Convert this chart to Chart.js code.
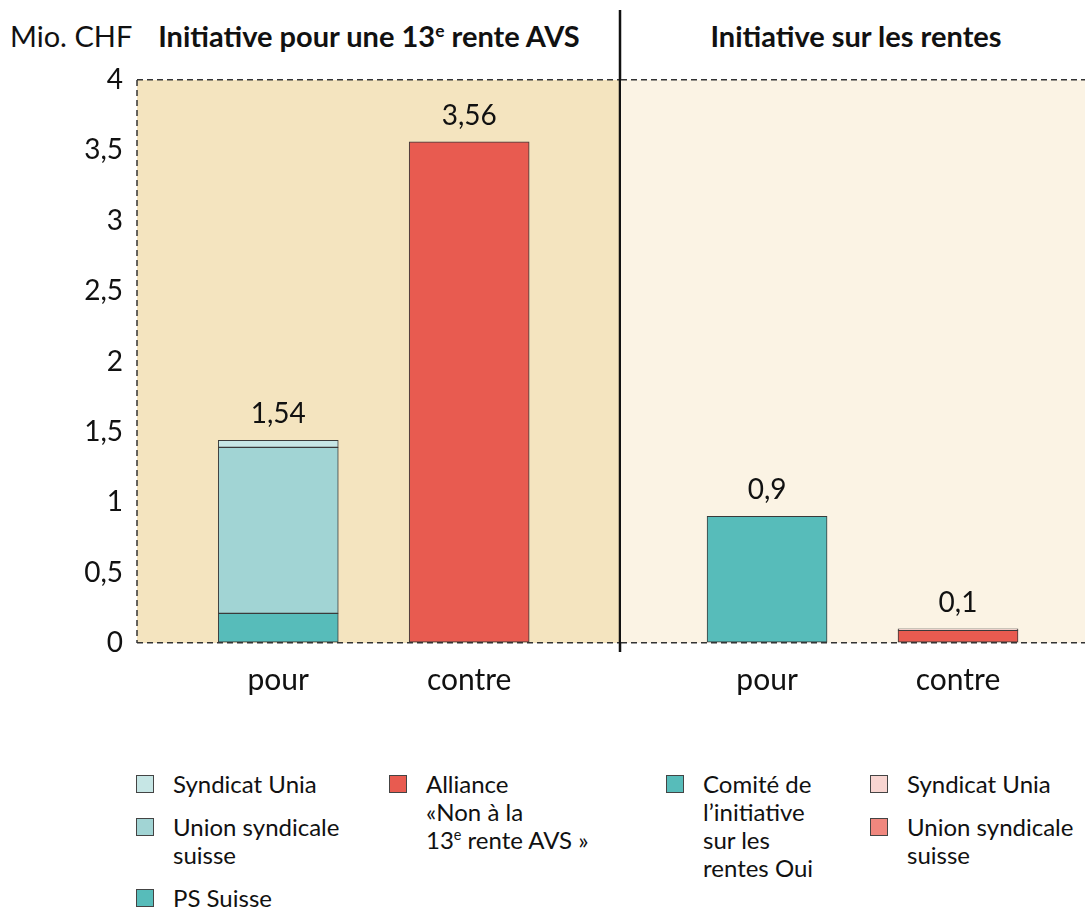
<!DOCTYPE html>
<html lang="fr">
<head>
<meta charset="utf-8">
<script src="https://cdn.jsdelivr.net/npm/chart.js@4.4.0/dist/chart.umd.min.js"></script>
<style>
  body { margin: 0; background: #fff; font-family: Lato, sans-serif; color: #111; }
  #wrap { position: relative; width: 1085px; height: 910px; overflow: hidden; }
  .box { position: absolute; top: 0; height: 700px; }
  #boxLeft { left: 0; width: 622px; }
  #boxRight { left: 621px; width: 464px; }
  .head { position: absolute; top: 17px; font-size: 29px; line-height: 38px; white-space: nowrap; }
  #unit { left: 10px; }
  #titleLeft { left: 0; width: 738px; text-align: center; font-weight: bold; }
  #titleRight { left: 627px; width: 458px; text-align: center; font-weight: bold; }
  sup { font-size: 60%; vertical-align: 0; position: relative; top: -0.6em; }
  .col { position: absolute; top: 770px; }
  .item { position: relative; padding-left: 37px; margin-bottom: 15px; font-size: 24px; line-height: 28px; white-space: pre-line; }
  .sw { position: absolute; left: 0; top: 5px; width: 16px; height: 16px; border: 1px solid #444; }
</style>
</head>
<body>
<div id="wrap">
  <div class="head" id="unit">Mio. CHF</div>
  <div class="head" id="titleLeft">Initiative pour une 13<sup>e</sup> rente AVS</div>
  <div class="head" id="titleRight">Initiative sur les rentes</div>
  <div class="box" id="boxLeft"><canvas id="chartLeft"></canvas></div>
  <div class="box" id="boxRight"><canvas id="chartRight"></canvas></div>
  <div id="legend"></div>
</div>
<script>
const categories = ['pour', 'contre'];

// Initiative pour une 13e rente AVS, Mio. CHF
const psSuisse = [0.21, null];
const ussLeft = [1.18, null];
const uniaLeft = [0.05, null];
const allianceNon = [null, 3.56];
const totalsLeft = ['1,54', '3,56'];

// Initiative sur les rentes, Mio. CHF
const comiteOui = [0.9, null];
const ussRight = [null, 0.09];
const uniaRight = [null, 0.01];
const totalsRight = ['0,9', '0,1'];

const yMax = 4;
const yStep = 0.5;

const FONT = 'Lato, sans-serif';
const EDGE = '#3a3a3a';

function points(values) {
    return values.map((v, i) => ({ x: i, y: v })).filter(p => p.y !== null);
}

function makeSet(label, values, color) {
    return {
        label: label,
        data: points(values),
        backgroundColor: color,
        borderColor: EDGE,
        borderWidth: 1,
        borderSkipped: false,
        barThickness: 120
    };
}

const leftSets = [
    makeSet('PS Suisse', psSuisse, '#57bcba'),
    makeSet('Union syndicale\nsuisse', ussLeft, '#a1d4d4'),
    makeSet('Syndicat Unia', uniaLeft, '#c6e6e5'),
    makeSet('Alliance\n«Non à la\n13e rente AVS »', allianceNon, '#e85b50')
];

const rightSets = [
    makeSet('Comité de\nl’initiative\nsur les\nrentes Oui', comiteOui, '#57bcba'),
    makeSet('Union syndicale\nsuisse', ussRight, '#e85b50'),
    makeSet('Syndicat Unia', uniaRight, '#f8d5d1')
];
rightSets[1].swatch = '#f0877e';

// background panel, dashed left edge, divider line
const panelPlugin = {
    id: 'panel',
    beforeDraw(chart, args, opts) {
        const { ctx, chartArea: a } = chart;
        ctx.save();
        ctx.fillStyle = opts.color;
        ctx.fillRect(a.left, a.top, a.width, a.height);
        if (opts.leftDash) {
            ctx.strokeStyle = '#333';
            ctx.lineWidth = 1.5;
            ctx.setLineDash([6, 4]);
            ctx.beginPath();
            ctx.moveTo(a.left, a.top);
            ctx.lineTo(a.left, a.bottom);
            ctx.stroke();
        }
        ctx.restore();
    },
    afterDraw(chart, args, opts) {
        if (!opts.divider) return;
        const { ctx, chartArea: a } = chart;
        ctx.save();
        ctx.strokeStyle = '#111';
        ctx.lineWidth = 2.5;
        ctx.beginPath();
        ctx.moveTo(a.right, 10);
        ctx.lineTo(a.right, a.bottom + 9);
        ctx.stroke();
        ctx.restore();
    }
};

// total above each bar
const totalsPlugin = {
    id: 'totals',
    afterDatasetsDraw(chart, args, opts) {
        const { ctx, scales } = chart;
        ctx.save();
        ctx.font = '28px ' + FONT;
        ctx.fillStyle = '#111';
        ctx.textAlign = 'center';
        ctx.textBaseline = 'alphabetic';
        categories.forEach((c, i) => {
            let sum = 0;
            chart.data.datasets.forEach(ds => {
                ds.data.forEach(p => { if (p.x === i) sum += p.y; });
            });
            const x = scales.x.getPixelForValue(i);
            const y = scales.y.getPixelForValue(sum);
            ctx.fillText(opts.labels[i], x, y - 17);
        });
        ctx.restore();
    }
};

function makeConfig(datasets, opts) {
    return {
        type: 'bar',
        data: { datasets: datasets },
        plugins: [panelPlugin, totalsPlugin],
        options: {
            responsive: true,
            maintainAspectRatio: false,
            animation: false,
            layout: { padding: { top: 80, right: opts.padRight, left: 0, bottom: 0 } },
            scales: {
                x: {
                    type: 'linear',
                    offset: false,
                    min: opts.xMin,
                    max: opts.xMax,
                    stacked: true,
                    afterBuildTicks: s => { s.ticks = categories.map((c, i) => ({ value: i })); },
                    afterFit: s => { s.height = 57; },
                    grid: { display: false },
                    border: { display: false },
                    ticks: {
                        padding: 11,
                        maxRotation: 0,
                        color: '#111',
                        font: { family: FONT, size: 30 },
                        callback: v => categories[v]
                    }
                },
                y: {
                    min: 0,
                    max: yMax,
                    stacked: true,
                    afterFit: s => { s.width = opts.yWidth; },
                    grid: {
                        drawTicks: false,
                        lineWidth: 1.5,
                        color: c => (c.tick.value === 0 || c.tick.value === yMax) ? '#333' : 'rgba(0,0,0,0)'
                    },
                    border: { display: false, dash: [6, 4] },
                    ticks: {
                        display: opts.yTicks,
                        stepSize: yStep,
                        padding: 14,
                        color: '#111',
                        font: { family: FONT, size: 28 },
                        callback: v => String(v).replace('.', ',')
                    }
                }
            },
            plugins: {
                legend: { display: false },
                tooltip: { enabled: false },
                panel: { color: opts.bg, leftDash: opts.yTicks, divider: opts.divider },
                totals: { labels: opts.totals }
            }
        }
    };
}

new Chart(document.getElementById('chartLeft'), makeConfig(leftSets, {
    xMin: -0.74, xMax: 1.79, yWidth: 137, yTicks: true, padRight: 2,
    bg: '#f4e4bf', divider: true, totals: totalsLeft
}));

new Chart(document.getElementById('chartRight'), makeConfig(rightSets, {
    xMin: -0.765, xMax: 1.665, yWidth: 0, yTicks: false, padRight: 0,
    bg: '#fbf3e4', divider: false, totals: totalsRight
}));

// legend, four columns
const legendColumns = [
    { left: 136, sets: [leftSets[2], leftSets[1], leftSets[0]] },
    { left: 389, sets: [leftSets[3]] },
    { left: 666, sets: [rightSets[0]] },
    { left: 870, sets: [rightSets[2], rightSets[1]] }
];
const legendEl = document.getElementById('legend');
legendColumns.forEach(col => {
    const c = document.createElement('div');
    c.className = 'col';
    c.style.left = col.left + 'px';
    col.sets.forEach(ds => {
        const it = document.createElement('div');
        it.className = 'item';
        const sw = document.createElement('span');
        sw.className = 'sw';
        sw.style.background = ds.swatch || ds.backgroundColor;
        it.appendChild(sw);
        const t = document.createElement('span');
        t.innerHTML = ds.label.replace('13e ', '13<sup>e</sup> ');
        it.appendChild(t);
        c.appendChild(it);
    });
    legendEl.appendChild(c);
});
</script>
</body>
</html>
